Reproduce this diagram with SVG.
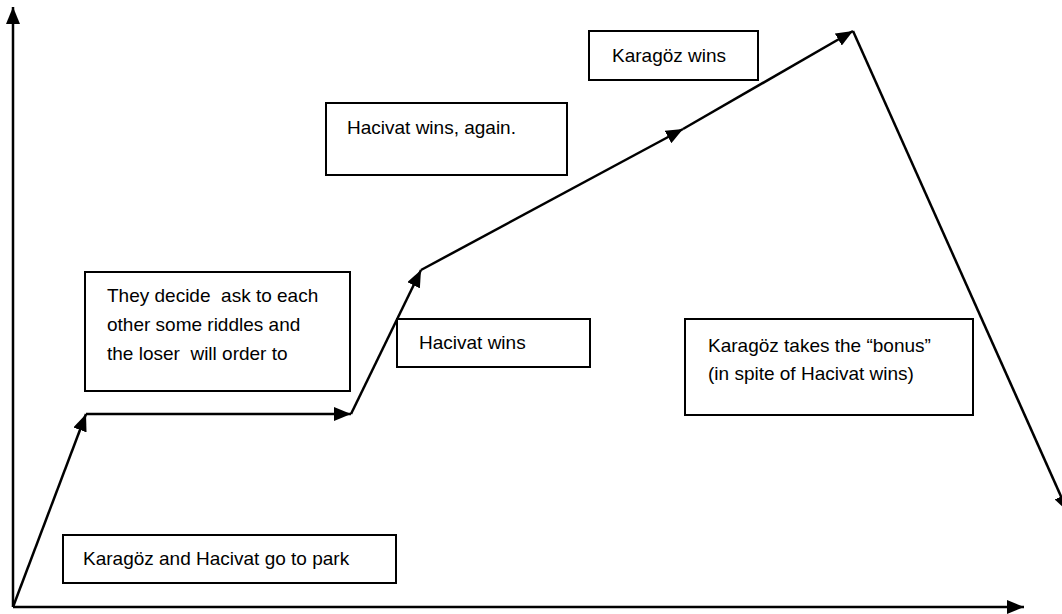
<svg xmlns="http://www.w3.org/2000/svg" width="1062" height="614" viewBox="0 0 1062 614">
<style>
.box{fill:#fff;stroke:#000;stroke-width:2}
.t{font-family:"Liberation Sans",Arial,sans-serif;font-size:19px;fill:#000}
.c{fill:none;stroke:#000;stroke-width:2.5}
</style>
<defs>
<marker id="ah" markerUnits="userSpaceOnUse" markerWidth="18" markerHeight="14" refX="17" refY="7" orient="auto">
<path d="M0,0 L17,7 L0,14 Z" fill="#000"/>
</marker>
</defs>
<rect width="1062" height="614" fill="#fff"/>
<g id="n1"><rect class="box" x="63" y="535" width="333" height="48"/><text class="t" x="83" y="565">Karagöz and Hacivat go to park</text></g>
<g id="n2"><rect class="box" x="85" y="272" width="265" height="119"/>
<text class="t" x="107" y="302" xml:space="preserve">They decide  ask to each</text>
<text class="t" x="107" y="331">other some riddles and</text>
<text class="t" x="107" y="360" xml:space="preserve">the loser  will order to</text></g>
<g id="n3"><rect class="box" x="397" y="319" width="193" height="48"/><text class="t" x="419" y="349">Hacivat wins</text></g>
<g id="n4"><rect class="box" x="326" y="103" width="241" height="72"/><text class="t" x="347" y="134">Hacivat wins, again.</text></g>
<g id="n5"><rect class="box" x="589" y="31" width="169" height="49"/><text class="t" x="612" y="62">Karagöz wins</text></g>
<g id="n6"><rect class="box" x="685" y="319" width="288" height="96"/>
<text class="t" x="708" y="352">Karagöz takes the “bonus”</text>
<text class="t" x="708" y="380">(in spite of Hacivat wins)</text></g>
<g id="connectors">
<line class="c" x1="13" y1="607" x2="13" y2="7" marker-end="url(#ah)"/>
<line class="c" x1="13" y1="607" x2="1024" y2="607" marker-end="url(#ah)"/>
<line class="c" x1="13" y1="607" x2="86" y2="414" marker-end="url(#ah)"/>
<line class="c" x1="86" y1="414" x2="351" y2="414" marker-end="url(#ah)"/>
<line class="c" x1="351" y1="414" x2="421" y2="270" marker-end="url(#ah)"/>
<line class="c" x1="421" y1="270" x2="683" y2="129" marker-end="url(#ah)"/>
<line class="c" x1="683" y1="129" x2="853" y2="31" marker-end="url(#ah)"/>
<line class="c" x1="853" y1="31" x2="1068" y2="512" marker-end="url(#ah)"/>
</g>
</svg>
